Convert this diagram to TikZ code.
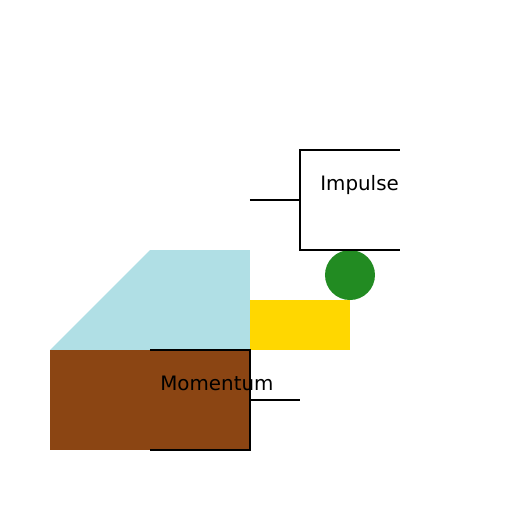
\documentclass[tikz,border=0pt]{standalone}
\usepackage{fontspec}
\setmainfont{DejaVu Sans}
\definecolor{pblue}{HTML}{B0DFE5}
\definecolor{sbrown}{HTML}{8B4513}
\definecolor{gold}{HTML}{FFD700}
\definecolor{fgreen}{HTML}{228B22}
\tikzset{
  bracket/.style={draw=black, line width=1.1pt},
  lbl/.style={inner sep=0pt, anchor=base west, font=\fontsize{11.3}{13}\selectfont}
}
\begin{document}
\begin{tikzpicture}[x=0.02cm, y=-0.02cm]
\useasboundingbox (0,0) rectangle (512,512);
\fill[pblue] (50,350) -- (150,250) -- (250,250) -- (250,350) -- cycle;
\fill[sbrown] (50,350) rectangle (250,450);
\fill[gold] (250,300) rectangle (350,350);
\fill[fgreen] (350,275) circle[radius=25];
% Impulse bracket
\coordinate (i1) at (400,150);
\coordinate (i2) at (300,150);
\coordinate (i3) at (300,250);
\coordinate (i4) at (400,250);
\coordinate (i5) at (250,200);
\coordinate (i6) at (300,200);
\draw[bracket] (i1) -- (i2) -- (i3) -- (i4);
\draw[bracket] (i5) -- (i6);
\node[lbl] (imp) at (320,190) {Impulse};
% Momentum bracket
\coordinate (m1) at (150,350);
\coordinate (m2) at (250,350);
\coordinate (m3) at (250,450);
\coordinate (m4) at (150,450);
\coordinate (m5) at (250,400);
\coordinate (m6) at (300,400);
\draw[bracket] (m1) -- (m2) -- (m3) -- (m4);
\draw[bracket] (m5) -- (m6);
\node[lbl] (mom) at (160,390) {Momentum};
\end{tikzpicture}
\end{document}
